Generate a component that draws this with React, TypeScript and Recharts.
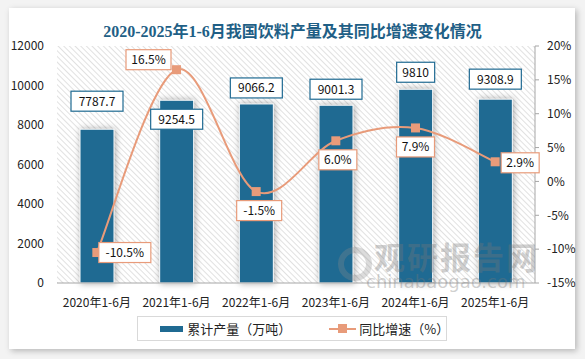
import React from "react";
import {
  ComposedChart,
  Bar,
  Line,
  XAxis,
  YAxis,
  CartesianGrid,
  LabelList,
} from "recharts";

const categories = [
  "2020年1-6月",
  "2021年1-6月",
  "2022年1-6月",
  "2023年1-6月",
  "2024年1-6月",
  "2025年1-6月",
];
const output = [7787.7, 9254.5, 9066.2, 9001.3, 9810, 9308.9];
const growth = [-10.5, 16.5, -1.5, 6.0, 7.9, 2.9];
const leftTicks = [0, 2000, 4000, 6000, 8000, 10000, 12000];
const rightTicks = [-15, -10, -5, 0, 5, 10, 15, 20];

// label placement tweaks (like the hand-dragged boxes in the original)
const barLabelDy = [-28, 19, -16, -16, -17, -20];
const lineLabelOffset = [
  [28, 0],
  [-28, -10],
  [3, 19],
  [2, 19],
  [0, 19],
  [25, 1],
];

const data = categories.map((name, i) => ({
  name,
  output: output[i],
  growth: growth[i],
}));

const BLUE = "#1f6a92";
const ORANGE = "#e89b7a";
const FONT = "'Noto Sans CJK SC', 'Noto Sans', sans-serif";

// Excel style smoothed line (catmull-rom through the points)
const excelSmooth = (context: any) => {
  let pts: number[][] = [];
  return {
    areaStart() {},
    areaEnd() {},
    lineStart() {
      pts = [];
    },
    point(x: number, y: number) {
      pts.push([+x, +y]);
    },
    lineEnd() {
      const n = pts.length;
      if (!n) return;
      context.moveTo(pts[0][0], pts[0][1]);
      for (let i = 0; i < n - 1; i++) {
        const p0 = pts[Math.max(i - 1, 0)];
        const p1 = pts[i];
        const p2 = pts[i + 1];
        const p3 = pts[Math.min(i + 2, n - 1)];
        context.bezierCurveTo(
          p1[0] + (p2[0] - p0[0]) / 6,
          p1[1] + (p2[1] - p0[1]) / 6,
          p2[0] - (p3[0] - p1[0]) / 6,
          p2[1] - (p3[1] - p1[1]) / 6,
          p2[0],
          p2[1]
        );
      }
    },
  };
};

const boxWidth = (s: string) => s.length * 7 + 10;

const BarBox = (props: any) => {
  const { x, y, width, index, value } = props;
  const text = String(value);
  const w = boxWidth(text);
  const cx = x + width / 2;
  const cy = y + barLabelDy[index];
  return (
    <g>
      <rect
        x={cx - w / 2}
        y={cy - 10}
        width={w}
        height={20}
        fill="#fff"
        stroke={BLUE}
        strokeWidth={1.2}
      />
      <text
        x={cx}
        y={cy + 4.5}
        textAnchor="middle"
        fontSize={12}
        fontFamily={FONT}
        fill="#111"
      >
        {text}
      </text>
    </g>
  );
};

const LineBox = (props: any) => {
  const { x, y, index, value } = props;
  const text = Number(value).toFixed(1) + "%";
  const w = boxWidth(text);
  const cx = x + lineLabelOffset[index][0];
  const cy = y + lineLabelOffset[index][1];
  return (
    <g>
      <rect
        x={cx - w / 2}
        y={cy - 10}
        width={w}
        height={20}
        fill="#fff"
        stroke={ORANGE}
        strokeWidth={1.2}
      />
      <text
        x={cx}
        y={cy + 4.5}
        textAnchor="middle"
        fontSize={12}
        fontFamily={FONT}
        fill="#111"
      >
        {text}
      </text>
    </g>
  );
};

const ShadowBar = (props: any) => {
  const { x, y, width, height } = props;
  if (!height) return null;
  return (
    <rect
      x={x}
      y={y}
      width={width}
      height={height}
      fill={BLUE}
      stroke="#fff"
      strokeWidth={1}
      style={{ filter: "drop-shadow(1px 0px 3px rgba(0,0,0,0.35))" }}
    />
  );
};

const SquareDot = (props: any) => {
  const { cx, cy } = props;
  return <rect x={cx - 4.5} y={cy - 4.5} width={9} height={9} fill={ORANGE} />;
};

export default function App() {
  return (
    <div
      style={{
        position: "absolute",
        left: 0,
        top: 0,
        width: 585,
        height: 359,
        background: "#f3f3f3",
        overflow: "hidden",
        fontFamily: FONT,
      }}
    >
      <svg width={0} height={0} style={{ position: "absolute" }}>
        <defs>
          <pattern
            id="hatch"
            width={4}
            height={4}
            patternUnits="userSpaceOnUse"
            patternTransform="rotate(-45)"
          >
            <rect width={4} height={4} fill="#fff" />
            <line x1={0} y1={0} x2={0} y2={4} stroke="#d4d4d4" strokeWidth={1.4} />
          </pattern>
        </defs>
      </svg>

      {/* white panel */}
      <div
        style={{
          position: "absolute",
          left: 9,
          top: 8,
          width: 566,
          height: 341,
          background: "#fff",
          boxShadow: "2px 2px 6px rgba(0,0,0,0.25)",
        }}
      />

      {/* title */}
      <div
        style={{
          position: "absolute",
          left: 0,
          top: 21,
          width: 585,
          textAlign: "center",
          fontSize: 16,
          fontWeight: "bold",
          color: "#1f5f86",
          fontFamily: "'Liberation Serif', 'Noto Sans CJK SC', serif",
          lineHeight: "22px",
        }}
      >
        2020-2025年1-6月我国饮料产量及其同比增速变化情况
      </div>

      <div style={{ position: "absolute", left: 0, top: 0 }}>
        <ComposedChart
          width={585}
          height={359}
          data={data}
          margin={{ top: 46, right: 0, bottom: 46, left: 0 }}
          barCategoryGap={0}
        >
          <CartesianGrid
            yAxisId="left"
            horizontal={false}
            vertical={false}
            fill="url(#hatch)"
            fillOpacity={1}
          />
          <XAxis
            dataKey="name"
            height={30}
            tickLine={false}
            axisLine={{ stroke: "#a6a6a6" }}
            tick={{ fontSize: 12, fill: "#222", fontFamily: FONT }}
            tickMargin={9}
            interval={0}
          />
          <YAxis
            yAxisId="left"
            domain={[0, 12000]}
            ticks={leftTicks}
            axisLine={false}
            tickLine={false}
            tickSize={0}
            tickMargin={13}
            width={57}
            tick={{ fontSize: 12, fill: "#222", fontFamily: FONT }}
          />
          <YAxis
            yAxisId="right"
            orientation="right"
            domain={[-15, 20]}
            ticks={rightTicks}
            axisLine={{ stroke: "#a6a6a6" }}
            tickLine={{ stroke: "#a6a6a6" }}
            tickSize={4}
            tickMargin={8}
            width={50}
            tickFormatter={(v: number) => `${v}%`}
            tick={{ fontSize: 12, fill: "#222", fontFamily: FONT, textAnchor: "start" }}
          />
          <Bar
            yAxisId="left"
            dataKey="output"
            barSize={34}
            fill={BLUE}
            shape={<ShadowBar />}
            isAnimationActive={false}
          >
            <LabelList dataKey="output" content={<BarBox />} />
          </Bar>
          <Line
            yAxisId="right"
            dataKey="growth"
            type={excelSmooth as any}
            stroke={ORANGE}
            strokeWidth={2}
            dot={<SquareDot />}
            activeDot={false}
            isAnimationActive={false}
          >
            <LabelList dataKey="growth" content={<LineBox />} />
          </Line>
        </ComposedChart>
      </div>

      {/* watermark */}
      <div
        style={{
          position: "absolute",
          left: 338,
          top: 247,
          width: 34,
          height: 34,
          borderRadius: "50%",
          border: "6px solid rgba(140,140,140,0.3)",
          boxSizing: "border-box",
          pointerEvents: "none",
        }}
      />
      <div
        style={{
          position: "absolute",
          left: 374,
          top: 241,
          fontSize: 31,
          fontWeight: "bold",
          color: "rgba(120,120,120,0.35)",
          lineHeight: "30px",
          height: 30,
          letterSpacing: 2,
          pointerEvents: "none",
        }}
      >
        观研报告网
      </div>
      <div
        style={{
          position: "absolute",
          left: 366,
          top: 275,
          fontSize: 18,
          color: "rgba(120,120,120,0.35)",
          lineHeight: "14px",
          height: 14,
          fontFamily: "'DejaVu Sans', sans-serif",
          pointerEvents: "none",
        }}
      >
        chinabaogao.com
      </div>

      {/* legend */}
      <div
        style={{
          position: "absolute",
          left: 137,
          top: 316,
          width: 310,
          height: 25,
          border: "1px solid #d9d9d9",
          background: "#fff",
          boxSizing: "border-box",
          display: "flex",
          alignItems: "center",
          fontSize: 13,
          color: "#222",
        }}
      >
        <div style={{ marginLeft: 22, width: 24, height: 6, background: BLUE }} />
        <span style={{ marginLeft: 4 }}>累计产量（万吨）</span>
        <div style={{ position: "relative", marginLeft: 42, width: 27, height: 9 }}>
          <div
            style={{
              position: "absolute",
              left: 0,
              top: 3.5,
              width: 27,
              height: 2,
              background: ORANGE,
            }}
          />
          <div
            style={{
              position: "absolute",
              left: 9,
              top: 0,
              width: 9,
              height: 9,
              background: ORANGE,
            }}
          />
        </div>
        <span style={{ marginLeft: 4 }}>同比增速（%）</span>
      </div>
    </div>
  );
}
